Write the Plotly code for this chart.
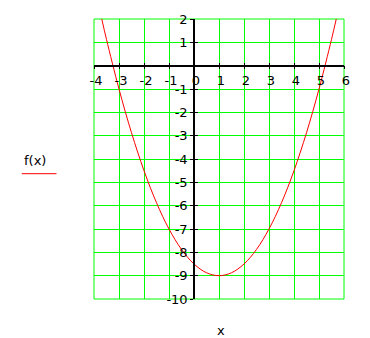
import plotly.graph_objects as go

x_vals = [-3.69, -3.5, -3, -2.5, -2, -1.5, -1, -0.5, 0, 0.5, 1, 1.5, 2, 2.5, 3, 3.5, 4, 4.5, 5, 5.5, 5.69]
f_vals = [2.0, 1.125, -1.0, -2.875, -4.5, -5.875, -7.0, -7.875, -8.5, -8.875, -9.0, -8.875, -8.5, -7.875, -7.0, -5.875, -4.5, -2.875, -1.0, 1.125, 2.0]

x_ticks = [-4, -3, -2, -1, 0, 1, 2, 3, 4, 5, 6]
x_labels = ["-4", "-3", "-2", "-1", "0", "1", "2", "3", "4", "5", "6"]
y_ticks = [2, 1, -1, -2, -3, -4, -5, -6, -7, -8, -9, -10]
y_labels = ["2", "1", "-1", "-2", "-3", "-4", "-5", "-6", "-7", "-8", "-9", "-10"]
y_grid = [2, 1, 0, -1, -2, -3, -4, -5, -6, -7, -8, -9, -10]
x_range = [-4, 6]
y_range = [-10, 2]

FONT = "DejaVu Sans, sans-serif"
GREEN = "#00ff00"

fig = go.Figure()
# invisible helper trace so the overlay axes (grid + inner ticks) are drawn
fig.add_trace(go.Scatter(x=[x_range[0]], y=[y_range[0]], xaxis="x2", yaxis="y2",
                         mode="markers", marker=dict(opacity=0), showlegend=False, hoverinfo="skip"))
fig.add_trace(go.Scatter(x=x_vals, y=f_vals, mode="lines",
                         line=dict(color="#ff0000", width=1, shape="spline", smoothing=1),
                         showlegend=False, hoverinfo="skip"))

ypos = (0 - y_range[0]) / (y_range[1] - y_range[0])
xpos = (0 - x_range[0]) / (x_range[1] - x_range[0])

fig.update_layout(
    width=370, height=338,
    margin=dict(l=94, r=26, t=19, b=39),
    paper_bgcolor="white", plot_bgcolor="white",
    font=dict(family=FONT, size=13, color="black"),
    showlegend=False,
    xaxis=dict(range=x_range, tickvals=x_ticks, ticktext=x_labels,
               showgrid=True, gridcolor=GREEN, gridwidth=1, zeroline=False,
               anchor="free", position=ypos, side="bottom",
               showline=True, linecolor="black", linewidth=1.5,
               ticks="outside", ticklen=3, tickcolor="black", tickwidth=1,
               ticklabelshift=2, fixedrange=True),
    yaxis=dict(range=y_range, tickvals=y_ticks, ticktext=y_labels,
               showgrid=False, zeroline=False,
               anchor="free", position=xpos, side="left",
               showline=True, linecolor="black", linewidth=1.5,
               ticks="outside", ticklen=3, tickcolor="black", tickwidth=1,
               fixedrange=True),
    xaxis2=dict(range=x_range, tickvals=x_ticks, overlaying="x", anchor="free", position=ypos,
                side="bottom", showticklabels=False, showgrid=False, zeroline=False,
                ticks="inside", ticklen=3, tickcolor="black", tickwidth=1, fixedrange=True),
    yaxis2=dict(range=y_range, tickvals=y_grid, overlaying="y", anchor="free", position=xpos,
                side="left", showticklabels=False, showgrid=True, gridcolor=GREEN, gridwidth=1,
                zeroline=False, ticks="inside", ticklen=3, tickcolor="black", tickwidth=1,
                fixedrange=True),
)

# plot frame (edge grid lines)
fig.add_shape(type="rect", xref="paper", yref="paper", x0=0, x1=1, y0=0, y1=1,
              line=dict(color=GREEN, width=1), layer="below")

fig.add_annotation(text="f(x)", xref="paper", yref="paper", x=-0.237, y=0.494,
                   xanchor="center", yanchor="middle", showarrow=False,
                   font=dict(family=FONT, size=13, color="black"))
fig.add_shape(type="line", xref="paper", yref="paper", x0=-0.289, x1=-0.150,
              y0=0.4475, y1=0.4475, line=dict(color="#ff0000", width=1))
fig.add_annotation(text="x", xref="paper", yref="paper", x=0.507, y=-0.113,
                   xanchor="center", yanchor="middle", showarrow=False,
                   font=dict(family=FONT, size=13, color="black"))

fig.write_html("out.html")
